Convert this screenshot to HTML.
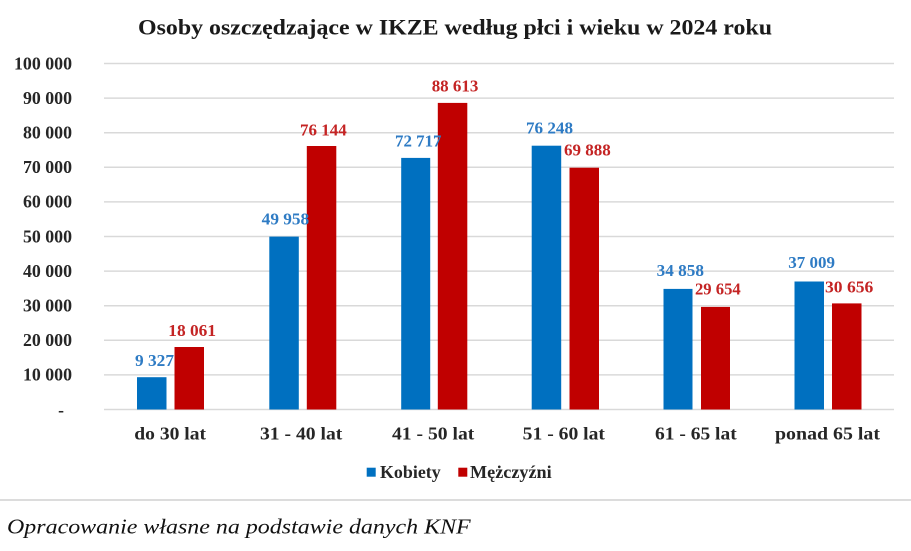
<!DOCTYPE html>
<html><head><meta charset="utf-8"><style>
html,body{margin:0;padding:0;background:#fff;}
svg{display:block;}
text{font-family:"Liberation Serif","DejaVu Serif",serif;}
</style></head><body>
<svg width="911" height="551" viewBox="0 0 911 551" xmlns="http://www.w3.org/2000/svg">
<rect width="911" height="551" fill="#fff"/>
<text x="138" y="34.5" font-size="22.5" font-weight="bold" fill="#1a1a1a" textLength="634" lengthAdjust="spacingAndGlyphs">Osoby oszczędzające  w IKZE  według  płci  i wieku  w  2024 roku</text>
<g stroke="#d9d9d9" stroke-width="1.5">
<line x1="104" x2="894" y1="63.5" y2="63.5"/>
<line x1="104" x2="894" y1="98.1" y2="98.1"/>
<line x1="104" x2="894" y1="132.7" y2="132.7"/>
<line x1="104" x2="894" y1="167.3" y2="167.3"/>
<line x1="104" x2="894" y1="201.9" y2="201.9"/>
<line x1="104" x2="894" y1="236.5" y2="236.5"/>
<line x1="104" x2="894" y1="271.1" y2="271.1"/>
<line x1="104" x2="894" y1="305.7" y2="305.7"/>
<line x1="104" x2="894" y1="340.3" y2="340.3"/>
<line x1="104" x2="894" y1="374.9" y2="374.9"/>
<line x1="104" x2="894" y1="409.5" y2="409.5"/>
</g>
<g font-size="17.5" font-weight="bold" fill="#262626" text-anchor="end">
<text x="72" y="69.3" textLength="58" lengthAdjust="spacingAndGlyphs">100 000</text>
<text x="72" y="103.9" textLength="49" lengthAdjust="spacingAndGlyphs">90 000</text>
<text x="72" y="138.5" textLength="49" lengthAdjust="spacingAndGlyphs">80 000</text>
<text x="72" y="173.1" textLength="49" lengthAdjust="spacingAndGlyphs">70 000</text>
<text x="72" y="207.7" textLength="49" lengthAdjust="spacingAndGlyphs">60 000</text>
<text x="72" y="242.3" textLength="49" lengthAdjust="spacingAndGlyphs">50 000</text>
<text x="72" y="276.9" textLength="49" lengthAdjust="spacingAndGlyphs">40 000</text>
<text x="72" y="311.5" textLength="49" lengthAdjust="spacingAndGlyphs">30 000</text>
<text x="72" y="346.1" textLength="49" lengthAdjust="spacingAndGlyphs">20 000</text>
<text x="72" y="380.7" textLength="49" lengthAdjust="spacingAndGlyphs">10 000</text>
<text x="64" y="416">-</text>
</g>
<!-- bars -->
<g fill="#0070C0">
<rect x="137" y="377.2" width="29.5" height="32.3"/>
<rect x="269.3" y="236.6" width="29.5" height="172.9"/>
<rect x="401.2" y="157.9" width="29" height="251.6"/>
<rect x="531.7" y="145.7" width="29.5" height="263.8"/>
<rect x="663.5" y="288.9" width="29" height="120.6"/>
<rect x="794.5" y="281.5" width="29.5" height="128"/>
</g>
<g fill="#C00000">
<rect x="174.5" y="347" width="29.5" height="62.5"/>
<rect x="306.8" y="146.0" width="29.5" height="263.5"/>
<rect x="437.8" y="102.9" width="29.5" height="306.6"/>
<rect x="569.5" y="167.7" width="29.5" height="241.8"/>
<rect x="701" y="306.9" width="29" height="102.6"/>
<rect x="832" y="303.4" width="29.5" height="106.1"/>
</g>
<!-- data labels -->
<g font-size="17" font-weight="bold" fill="#2E7BC4">
<text x="135" y="366" textLength="39" lengthAdjust="spacingAndGlyphs">9 327</text>
<text x="261.7" y="224.6" textLength="47.5" lengthAdjust="spacingAndGlyphs">49 958</text>
<text x="395" y="146.3" textLength="46.5" lengthAdjust="spacingAndGlyphs">72 717</text>
<text x="526" y="133.6" textLength="47" lengthAdjust="spacingAndGlyphs">76 248</text>
<text x="656.7" y="276" textLength="47.3" lengthAdjust="spacingAndGlyphs">34 858</text>
<text x="788.3" y="268" textLength="46.7" lengthAdjust="spacingAndGlyphs">37 009</text>
</g>
<g font-size="17" font-weight="bold" fill="#C42424">
<text x="168.3" y="336" textLength="47.7" lengthAdjust="spacingAndGlyphs">18 061</text>
<text x="300" y="135.3" textLength="46.7" lengthAdjust="spacingAndGlyphs">76 144</text>
<text x="431.7" y="91.3" textLength="46.7" lengthAdjust="spacingAndGlyphs">88 613</text>
<text x="564" y="155.3" textLength="46.7" lengthAdjust="spacingAndGlyphs">69 888</text>
<text x="695" y="294.3" textLength="45.7" lengthAdjust="spacingAndGlyphs">29 654</text>
<text x="825" y="292.6" textLength="48.3" lengthAdjust="spacingAndGlyphs">30 656</text>
</g>
<!-- category labels -->
<g font-size="17.5" font-weight="bold" fill="#262626">
<text x="134.3" y="439.5" textLength="71.7" lengthAdjust="spacingAndGlyphs">do 30 lat</text>
<text x="260" y="439.5" textLength="82.3" lengthAdjust="spacingAndGlyphs">31 - 40 lat</text>
<text x="392" y="439.5" textLength="82.3" lengthAdjust="spacingAndGlyphs">41 - 50 lat</text>
<text x="522.7" y="439.5" textLength="82.3" lengthAdjust="spacingAndGlyphs">51 - 60 lat</text>
<text x="655" y="439.5" textLength="81.7" lengthAdjust="spacingAndGlyphs">61 - 65 lat</text>
<text x="775" y="439.5" textLength="105" lengthAdjust="spacingAndGlyphs">ponad  65 lat</text>
</g>
<!-- legend -->
<rect x="366.7" y="467.7" width="9" height="9" fill="#0070C0"/>
<rect x="458.3" y="467.7" width="9" height="9" fill="#C00000"/>
<g font-size="17.5" font-weight="bold" fill="#262626">
<text x="380" y="477.8" textLength="60.7" lengthAdjust="spacingAndGlyphs">Kobiety</text>
<text x="470" y="477.8" textLength="81.7" lengthAdjust="spacingAndGlyphs">Mężczyźni</text>
</g>
<line x1="0" x2="911" y1="500" y2="500" stroke="#dcdcdc" stroke-width="2"/>
<text x="7" y="533.3" font-size="21.5" font-style="italic" fill="#111" textLength="463.7" lengthAdjust="spacingAndGlyphs">Opracowanie własne na podstawie danych KNF</text>
</svg>
</body></html>
